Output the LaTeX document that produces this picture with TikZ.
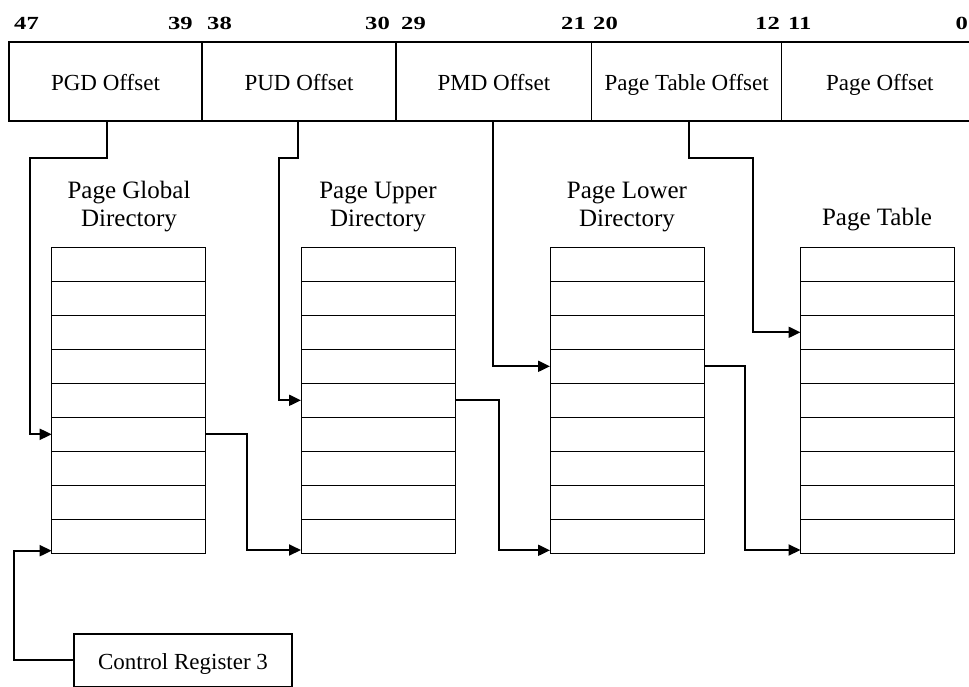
\documentclass[tikz,border=0pt]{standalone}
\usepackage{graphicx}
\usepackage{fontspec}
\setmainfont{Liberation Serif}
\usetikzlibrary{arrows.meta,calc}
\begin{document}
\begin{tikzpicture}[x=1pt,y=-1pt,
  field/.style={draw,line width=1.2pt,minimum height=79pt,inner sep=0pt,outer sep=0pt,
    anchor=north west,text height=18.4pt,text depth=0pt,font=\fontsize{23}{27}\selectfont},
  bitnum/.style={inner sep=0pt,font=\bfseries\fontsize{18.5}{20}\selectfont},
  tbl/.style={draw,line width=1pt,minimum width=154pt,minimum height=306pt,inner sep=0pt,
    outer sep=0pt,anchor=north west},
  rowline/.style={line width=1pt},
  title/.style={inner sep=0pt,align=center,anchor=base,font=\fontsize{25}{28.4}\selectfont},
  conn/.style={line width=2pt,-{Triangle[length=12pt,width=11pt]}},
  crbox/.style={draw,line width=1.2pt,minimum width=218pt,minimum height=52.5pt,inner sep=0pt,
    outer sep=0pt,anchor=north west,text height=18.4pt,text depth=0pt,font=\fontsize{23}{27}\selectfont}]
\clip (0,0) rectangle (969,686);
\fill[white] (0,0) rectangle (969,686);

% bit numbers
\node[bitnum,anchor=base west] (b47) at (14,29.3) {\scalebox{1.33}[1]{47}};
\node[bitnum,anchor=base east] (b39) at (193,29.3) {\scalebox{1.33}[1]{39}};
\node[bitnum,anchor=base west] (b38) at (207,29.3) {\scalebox{1.33}[1]{38}};
\node[bitnum,anchor=base east] (b30) at (390,29.3) {\scalebox{1.33}[1]{30}};
\node[bitnum,anchor=base west] (b29) at (401,29.3) {\scalebox{1.33}[1]{29}};
\node[bitnum,anchor=base east] (b21) at (586,29.3) {\scalebox{1.33}[1]{21}};
\node[bitnum,anchor=base west] (b20) at (593,29.3) {\scalebox{1.33}[1]{20}};
\node[bitnum,anchor=base east] (b12) at (780,29.3) {\scalebox{1.33}[1]{12}};
\node[bitnum,anchor=base west] (b11) at (788,29.3) {\scalebox{1.33}[1]{11}};
\node[bitnum,anchor=base east] (b0) at (968,29.3) {\scalebox{1.33}[1]{0}};

% address fields
\node[field,minimum width=193pt] (pgdoff) at (9,42) {PGD Offset};
\node[field,minimum width=194pt] (pudoff) at (202,42) {PUD Offset};
\node[field,minimum width=195.7pt] (pmdoff) at (396,42) {PMD Offset};
\node[field,minimum width=190pt] (ptoff) at (591.7,42) {Page Table Offset};
\node[field,minimum width=196.3pt] (pgoff) at (781.7,42) {Page Offset};

% titles (base anchor = last line)
\node[title] (tpgd) at (129,226.7) {Page Global\\Directory};
\node[title] (tpud) at (378,226.7) {Page Upper\\Directory};
\node[title] (tpmd) at (627,226.7) {Page Lower\\Directory};
\node[title] (tpt) at (877,225.7) {Page Table};

% tables
\node[tbl] (pgd) at (51.7,247.3) {};
\node[tbl] (pud) at (301,247.3) {};
\node[tbl] (pmd) at (550,247.3) {};
\node[tbl] (pt) at (800.5,247.3) {};
\foreach \t in {pgd,pud,pmd,pt}{
  \foreach \i in {1,...,8}{
    \draw[rowline] ($(\t.north west)+(0,\i*34)$) -- ($(\t.north east)+(0,\i*34)$);
  }
}

% control register
\node[crbox] (cr3) at (74,634) {Control Register 3};

% entry points
\coordinate (pgdin) at ($(pgd.north west)+(0,187)$);
\coordinate (pgdout) at ($(pgd.north east)+(0,187)$);
\coordinate (pgdbase) at ($(pgd.south west)+(0,-2.6)$);
\coordinate (pudin) at ($(pud.north west)+(0,153)$);
\coordinate (pudout) at ($(pud.north east)+(0,153)$);
\coordinate (pudbase) at ($(pud.south west)+(0,-3.3)$);
\coordinate (pmdin) at ($(pmd.north west)+(0,119)$);
\coordinate (pmdout) at ($(pmd.north east)+(0,119)$);
\coordinate (pmdbase) at ($(pmd.south west)+(0,-3)$);
\coordinate (ptin) at ($(pt.north west)+(0,85)$);
\coordinate (ptbase) at ($(pt.south west)+(0,-3.3)$);

% offset connectors
\draw[conn] ([xshift=1.8pt]pgdoff.south) |- (30,158.3) |- (pgdin);
\draw[conn] ([xshift=-0.7pt]pudoff.south) |- (279.3,158.3) |- (pudin);
\draw[conn] ([xshift=-0.5pt]pmdoff.south) |- (pmdin);
\draw[conn] ([xshift=2.6pt]ptoff.south) |- (753.3,158.3) |- (ptin);

% table to table connectors
\draw[conn] (pgdout) -- (246.7,434.3) |- (pudbase);
\draw[conn] (pudout) -- (499.3,400.3) |- (pmdbase);
\draw[conn] (pmdout) -- (744.6,366.3) |- (ptbase);
\draw[conn] (cr3.west) -| (14,550.7) -- (pgdbase);
\end{tikzpicture}
\end{document}
